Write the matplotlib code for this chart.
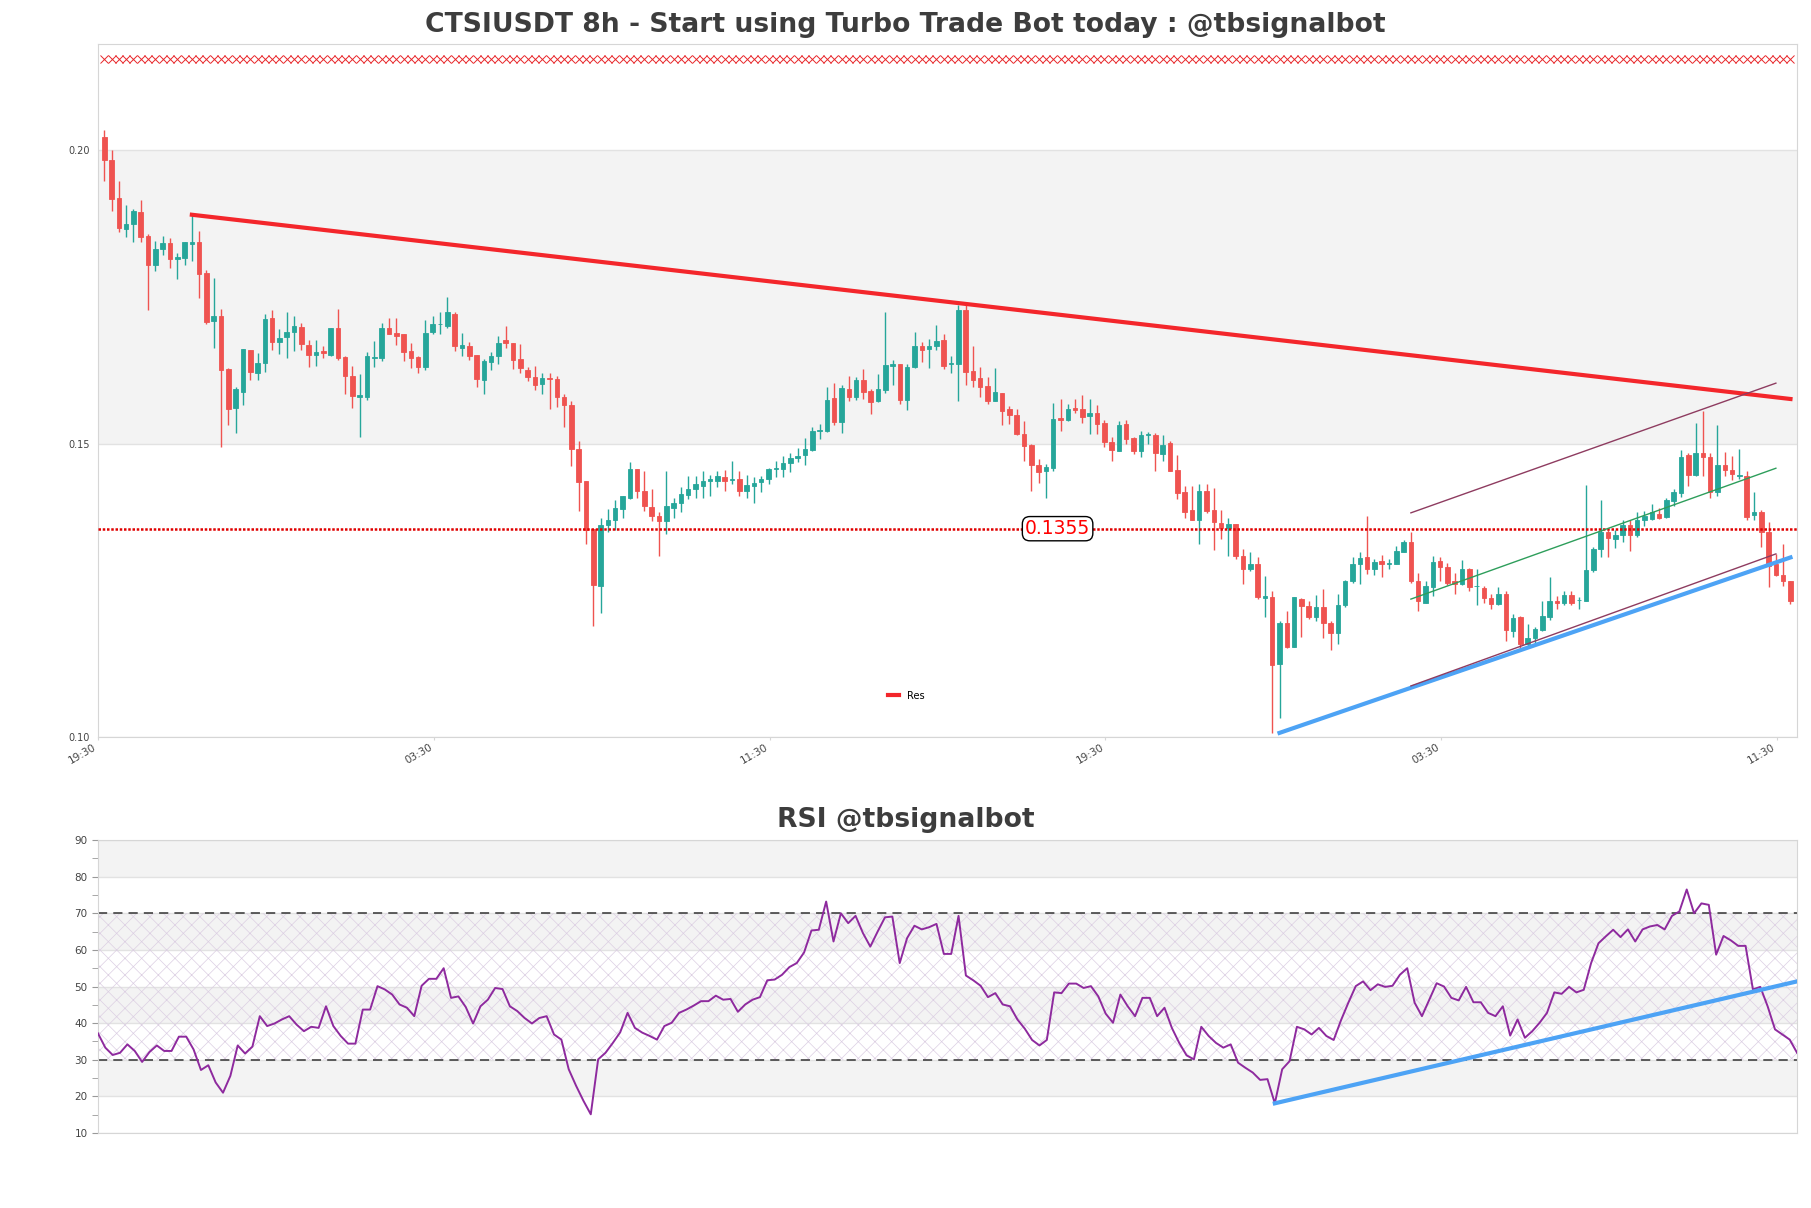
import numpy as np
import matplotlib
matplotlib.use("Agg")
import matplotlib.pyplot as plt

# ---------------- data ----------------
opens = [
    0.2022, 0.1984, 0.1919, 0.1866, 0.1875, 0.1894, 0.1853, 0.1805, 0.1832, 0.1841,
    0.1815, 0.1817, 0.1840, 0.1844, 0.1791, 0.1709, 0.1718, 0.1627, 0.1560, 0.1588,
    0.1660, 0.1620, 0.1638, 0.1714, 0.1673, 0.1681, 0.1690, 0.1699, 0.1668, 0.1651,
    0.1658, 0.1651, 0.1697, 0.1647, 0.1615, 0.1580, 0.1579, 0.1646, 0.1646, 0.1697,
    0.1689, 0.1686, 0.1658, 0.1647, 0.1630, 0.1690, 0.1703, 0.1701, 0.1720, 0.1663,
    0.1667, 0.1651, 0.1609, 0.1639, 0.1649, 0.1677, 0.1672, 0.1645, 0.1626, 0.1614,
    0.1602, 0.1611, 0.1610, 0.1579, 0.1566, 0.1491, 0.1437, 0.1354, 0.1257, 0.1362,
    0.1369, 0.1389, 0.1408, 0.1456, 0.1420, 0.1392, 0.1377, 0.1368, 0.1390, 0.1398,
    0.1413, 0.1422, 0.1428, 0.1436, 0.1437, 0.1443, 0.1438, 0.1439, 0.1420, 0.1427,
    0.1434, 0.1439, 0.1457, 0.1456, 0.1467, 0.1475, 0.1480, 0.1489, 0.1521, 0.1522,
    0.1577, 0.1536, 0.1593, 0.1580, 0.1609, 0.1589, 0.1572, 0.1592, 0.1632, 0.1636,
    0.1575, 0.1630, 0.1667, 0.1662, 0.1667, 0.1676, 0.1636, 0.1636, 0.1727, 0.1624,
    0.1612, 0.1598, 0.1573, 0.1587, 0.1559, 0.1548, 0.1517, 0.1497, 0.1463, 0.1453,
    0.1458, 0.1543, 0.1540, 0.1560, 0.1559, 0.1547, 0.1552, 0.1535, 0.1503, 0.1488,
    0.1533, 0.1509, 0.1488, 0.1515, 0.1515, 0.1482, 0.1501, 0.1455, 0.1417, 0.1386,
    0.1370, 0.1420, 0.1386, 0.1365, 0.1357, 0.1363, 0.1309, 0.1286, 0.1295, 0.1237,
    0.1239, 0.1124, 0.1194, 0.1154, 0.1235, 0.1224, 0.1204, 0.1222, 0.1195, 0.1178,
    0.1225, 0.1265, 0.1294, 0.1306, 0.1286, 0.1300, 0.1294, 0.1295, 0.1316, 0.1333,
    0.1266, 0.1229, 0.1255, 0.1300, 0.1290, 0.1265, 0.1261, 0.1286, 0.1257, 0.1254,
    0.1237, 0.1226, 0.1244, 0.1180, 0.1204, 0.1158, 0.1168, 0.1182, 0.1205, 0.1231,
    0.1228, 0.1242, 0.1233, 0.1232, 0.1284, 0.1320, 0.1350, 0.1337, 0.1345, 0.1362,
    0.1345, 0.1370, 0.1371, 0.1380, 0.1375, 0.1402, 0.1415, 0.1480, 0.1447, 0.1484,
    0.1478, 0.1417, 0.1463, 0.1455, 0.1444, 0.1445, 0.1378, 0.1384, 0.1350, 0.1295,
    0.1276, 0.1266,
]
highs = [
    0.2035, 0.2001, 0.1948, 0.1907, 0.1900, 0.1915, 0.1857, 0.1845, 0.1853, 0.1850,
    0.1825, 0.1844, 0.1890, 0.1862, 0.1795, 0.1782, 0.1730, 0.1629, 0.1597, 0.1661,
    0.1660, 0.1655, 0.1720, 0.1727, 0.1696, 0.1724, 0.1717, 0.1705, 0.1676, 0.1676,
    0.1667, 0.1697, 0.1730, 0.1649, 0.1633, 0.1619, 0.1656, 0.1675, 0.1706, 0.1714,
    0.1714, 0.1686, 0.1672, 0.1650, 0.1710, 0.1718, 0.1724, 0.1749, 0.1724, 0.1688,
    0.1673, 0.1651, 0.1644, 0.1656, 0.1684, 0.1700, 0.1672, 0.1669, 0.1631, 0.1632,
    0.1621, 0.1621, 0.1616, 0.1585, 0.1572, 0.1505, 0.1437, 0.1354, 0.1373, 0.1388,
    0.1404, 0.1411, 0.1468, 0.1457, 0.1453, 0.1423, 0.1383, 0.1454, 0.1407, 0.1426,
    0.1445, 0.1444, 0.1453, 0.1446, 0.1453, 0.1455, 0.1471, 0.1453, 0.1446, 0.1443,
    0.1444, 0.1458, 0.1471, 0.1479, 0.1484, 0.1493, 0.1510, 0.1528, 0.1534, 0.1596,
    0.1603, 0.1600, 0.1615, 0.1613, 0.1627, 0.1593, 0.1618, 0.1725, 0.1643, 0.1636,
    0.1636, 0.1691, 0.1673, 0.1679, 0.1702, 0.1686, 0.1650, 0.1736, 0.1736, 0.1667,
    0.1630, 0.1614, 0.1628, 0.1587, 0.1564, 0.1559, 0.1539, 0.1500, 0.1474, 0.1465,
    0.1569, 0.1576, 0.1568, 0.1576, 0.1582, 0.1576, 0.1565, 0.1541, 0.1511, 0.1538,
    0.1541, 0.1512, 0.1521, 0.1519, 0.1518, 0.1514, 0.1505, 0.1480, 0.1427, 0.1428,
    0.1431, 0.1431, 0.1424, 0.1386, 0.1374, 0.1363, 0.1320, 0.1316, 0.1307, 0.1275,
    0.1248, 0.1197, 0.1215, 0.1239, 0.1237, 0.1232, 0.1242, 0.1252, 0.1197, 0.1244,
    0.1267, 0.1307, 0.1315, 0.1376, 0.1303, 0.1311, 0.1303, 0.1326, 0.1336, 0.1349,
    0.1279, 0.1266, 0.1309, 0.1307, 0.1296, 0.1279, 0.1301, 0.1288, 0.1286, 0.1258,
    0.1243, 0.1256, 0.1248, 0.1209, 0.1207, 0.1193, 0.1187, 0.1231, 0.1272, 0.1241,
    0.1249, 0.1248, 0.1238, 0.1430, 0.1323, 0.1404, 0.1353, 0.1352, 0.1369, 0.1369,
    0.1383, 0.1385, 0.1397, 0.1391, 0.1408, 0.1423, 0.1489, 0.1484, 0.1535, 0.1556,
    0.1484, 0.1532, 0.1485, 0.1479, 0.1491, 0.1454, 0.1417, 0.1387, 0.1366, 0.1312,
    0.1329, 0.1266,
]
lows = [
    0.1948, 0.1896, 0.1861, 0.1852, 0.1844, 0.1844, 0.1727, 0.1794, 0.1822, 0.1799,
    0.1780, 0.1804, 0.1812, 0.1748, 0.1704, 0.1663, 0.1494, 0.1531, 0.1518, 0.1565,
    0.1608, 0.1609, 0.1622, 0.1660, 0.1653, 0.1646, 0.1658, 0.1660, 0.1630, 0.1633,
    0.1646, 0.1650, 0.1642, 0.1584, 0.1561, 0.1511, 0.1575, 0.1631, 0.1641, 0.1686,
    0.1668, 0.1640, 0.1629, 0.1620, 0.1626, 0.1686, 0.1686, 0.1697, 0.1658, 0.1650,
    0.1642, 0.1597, 0.1585, 0.1626, 0.1635, 0.1663, 0.1627, 0.1621, 0.1607, 0.1592,
    0.1584, 0.1559, 0.1562, 0.1528, 0.1461, 0.1385, 0.1329, 0.1189, 0.1212, 0.1349,
    0.1352, 0.1373, 0.1406, 0.1407, 0.1385, 0.1368, 0.1309, 0.1346, 0.1374, 0.1383,
    0.1405, 0.1407, 0.1407, 0.1411, 0.1426, 0.1420, 0.1431, 0.1411, 0.1407, 0.1399,
    0.1417, 0.1431, 0.1443, 0.1443, 0.1452, 0.1468, 0.1464, 0.1487, 0.1507, 0.1519,
    0.1532, 0.1518, 0.1573, 0.1574, 0.1576, 0.1551, 0.1571, 0.1586, 0.1599, 0.1567,
    0.1558, 0.1629, 0.1639, 0.1629, 0.1659, 0.1627, 0.1620, 0.1572, 0.1600, 0.1597,
    0.1579, 0.1567, 0.1572, 0.1532, 0.1534, 0.1515, 0.1471, 0.1420, 0.1432, 0.1407,
    0.1453, 0.1522, 0.1539, 0.1552, 0.1535, 0.1517, 0.1517, 0.1494, 0.1471, 0.1487,
    0.1500, 0.1482, 0.1477, 0.1500, 0.1454, 0.1470, 0.1454, 0.1406, 0.1373, 0.1369,
    0.1329, 0.1381, 0.1319, 0.1337, 0.1309, 0.1303, 0.1261, 0.1283, 0.1235, 0.1204,
    0.1007, 0.1033, 0.1151, 0.1154, 0.1170, 0.1201, 0.1198, 0.1168, 0.1148, 0.1158,
    0.1221, 0.1262, 0.1261, 0.1278, 0.1276, 0.1272, 0.1286, 0.1294, 0.1315, 0.1262,
    0.1214, 0.1228, 0.1241, 0.1265, 0.1259, 0.1243, 0.1259, 0.1248, 0.1225, 0.1228,
    0.1218, 0.1225, 0.1164, 0.1171, 0.1150, 0.1155, 0.1161, 0.1180, 0.1199, 0.1218,
    0.1225, 0.1225, 0.1218, 0.1231, 0.1282, 0.1307, 0.1307, 0.1322, 0.1332, 0.1317,
    0.1341, 0.1360, 0.1369, 0.1371, 0.1374, 0.1394, 0.1409, 0.1428, 0.1444, 0.1444,
    0.1407, 0.1411, 0.1444, 0.1438, 0.1440, 0.1369, 0.1370, 0.1323, 0.1255, 0.1275,
    0.1258, 0.1227,
]
closes = [
    0.1984, 0.1917, 0.1867, 0.1874, 0.1896, 0.1852, 0.1805, 0.1832, 0.1842, 0.1815,
    0.1818, 0.1844, 0.1844, 0.1789, 0.1707, 0.1718, 0.1626, 0.1559, 0.1593, 0.1661,
    0.1622, 0.1638, 0.1713, 0.1673, 0.1680, 0.1691, 0.1700, 0.1670, 0.1651, 0.1656,
    0.1655, 0.1697, 0.1646, 0.1615, 0.1581, 0.1582, 0.1650, 0.1647, 0.1697, 0.1687,
    0.1683, 0.1656, 0.1646, 0.1630, 0.1689, 0.1703, 0.1704, 0.1725, 0.1666, 0.1668,
    0.1650, 0.1610, 0.1640, 0.1650, 0.1672, 0.1672, 0.1643, 0.1629, 0.1613, 0.1600,
    0.1612, 0.1610, 0.1579, 0.1566, 0.1490, 0.1434, 0.1352, 0.1259, 0.1362, 0.1370,
    0.1391, 0.1410, 0.1456, 0.1419, 0.1393, 0.1376, 0.1368, 0.1393, 0.1399, 0.1414,
    0.1423, 0.1431, 0.1437, 0.1439, 0.1444, 0.1437, 0.1439, 0.1420, 0.1430, 0.1433,
    0.1439, 0.1457, 0.1458, 0.1467, 0.1476, 0.1479, 0.1491, 0.1522, 0.1524, 0.1575,
    0.1536, 0.1595, 0.1580, 0.1609, 0.1588, 0.1571, 0.1593, 0.1634, 0.1636, 0.1575,
    0.1631, 0.1666, 0.1660, 0.1667, 0.1675, 0.1633, 0.1638, 0.1727, 0.1622, 0.1608,
    0.1597, 0.1573, 0.1588, 0.1556, 0.1548, 0.1517, 0.1496, 0.1464, 0.1452, 0.1460,
    0.1542, 0.1540, 0.1559, 0.1558, 0.1546, 0.1552, 0.1533, 0.1502, 0.1489, 0.1531,
    0.1507, 0.1488, 0.1515, 0.1517, 0.1484, 0.1498, 0.1454, 0.1415, 0.1383, 0.1370,
    0.1420, 0.1385, 0.1366, 0.1357, 0.1363, 0.1308, 0.1286, 0.1295, 0.1238, 0.1241,
    0.1123, 0.1195, 0.1154, 0.1238, 0.1224, 0.1205, 0.1222, 0.1194, 0.1178, 0.1225,
    0.1266, 0.1295, 0.1305, 0.1286, 0.1299, 0.1295, 0.1296, 0.1317, 0.1333, 0.1266,
    0.1232, 0.1258, 0.1299, 0.1289, 0.1263, 0.1261, 0.1286, 0.1255, 0.1258, 0.1237,
    0.1226, 0.1243, 0.1182, 0.1203, 0.1158, 0.1168, 0.1184, 0.1206, 0.1231, 0.1228,
    0.1242, 0.1229, 0.1234, 0.1284, 0.1320, 0.1349, 0.1339, 0.1345, 0.1362, 0.1345,
    0.1370, 0.1377, 0.1383, 0.1374, 0.1404, 0.1418, 0.1478, 0.1447, 0.1484, 0.1478,
    0.1417, 0.1463, 0.1455, 0.1448, 0.1447, 0.1375, 0.1384, 0.1349, 0.1292, 0.1276,
    0.1265, 0.1231,
]
rsi = [
    37.2, 33.3, 31.3, 31.9, 34.2, 32.4, 29.4, 32.1, 33.9, 32.4,
    32.4, 36.3, 36.3, 32.8, 27.2, 28.5, 23.8, 21.0, 25.6, 33.9,
    31.7, 33.6, 41.9, 39.2, 39.9, 41.0, 41.9, 39.6, 37.8, 39.0,
    38.7, 44.6, 39.2, 36.5, 34.4, 34.4, 43.7, 43.7, 50.1, 49.2,
    47.8, 45.1, 44.2, 41.9, 50.2, 52.1, 52.1, 55.0, 46.9, 47.3,
    44.4, 39.9, 44.6, 46.4, 49.6, 49.3, 44.6, 43.3, 41.4, 39.9,
    41.4, 41.9, 36.9, 35.5, 27.4, 22.9, 18.8, 15.1, 30.1, 31.9,
    34.6, 37.5, 42.8, 38.7, 37.4, 36.5, 35.5, 39.2, 40.1, 42.8,
    43.7, 44.8, 46.0, 46.0, 47.5, 46.4, 46.6, 43.1, 45.1, 46.4,
    47.1, 51.7, 51.9, 53.2, 55.3, 56.4, 59.3, 65.3, 65.5, 73.2,
    62.3, 70.0, 67.3, 69.3, 64.6, 60.9, 65.0, 68.9, 69.1, 56.4,
    63.2, 66.6, 65.6, 66.2, 67.1, 58.9, 58.9, 69.3, 53.0, 51.7,
    50.2, 47.1, 48.2, 45.1, 44.6, 41.0, 38.5, 35.4, 33.9, 35.4,
    48.4, 48.2, 50.8, 50.8, 49.6, 50.1, 47.3, 42.6, 40.1, 47.8,
    44.6, 41.9, 46.9, 46.9, 41.9, 44.2, 38.7, 34.6, 31.2, 30.1,
    39.0, 36.5, 34.6, 33.3, 34.2, 29.2, 27.8, 26.5, 24.5, 24.7,
    18.1, 27.4, 29.6, 39.0, 38.3, 36.9, 38.7, 36.5, 35.4, 40.8,
    45.6, 50.1, 51.4, 49.0, 50.6, 49.9, 50.2, 53.2, 55.0, 45.6,
    41.9, 46.4, 50.9, 50.0, 46.9, 46.2, 49.9, 45.7, 45.7, 42.8,
    41.9, 44.6, 36.6, 41.0, 36.0, 37.8, 40.1, 42.8, 48.4, 48.0,
    49.9, 48.4, 49.1, 56.4, 61.8, 63.7, 65.5, 63.5, 65.6, 62.3,
    65.6, 66.4, 66.8, 65.6, 69.3, 70.5, 76.5, 70.0, 72.7, 72.3,
    58.7, 63.8, 62.6, 61.1, 61.1, 49.2, 49.9, 44.6, 38.3, 36.9,
    35.5, 31.9,
]

x_tick_labels = ["19:30", "03:30", "11:30", "19:30", "03:30", "11:30"]
price_ticks = [0.10, 0.15, 0.20]
rsi_ticks = [10, 20, 30, 40, 50, 60, 70, 80, 90]

# trend lines (candle index, price)
res_x, res_y = [12, 231], [0.1890, 0.1576]
sup_x, sup_y = [161, 231], [0.1007, 0.1306]
chan_x = [179, 229]
chan_upper = [0.1382, 0.1603]
chan_mid = [0.1235, 0.1458]
chan_lower = [0.1087, 0.1312]
level_price = 0.1355
signal_y = 0.2155
rsi_tl_x, rsi_tl_y = [160, 231], [18.1, 51.4]

# ---------------- figure ----------------
TXT = "#3d3d3d"
SPINE = "#d6d6d6"
BAND = "#f3f3f3"
UP = "#26a69a"
DN = "#ef5350"

fig = plt.figure(figsize=(18.11, 12.08), dpi=100)
fig.patch.set_facecolor("white")

ax = fig.add_axes([0.0541, 0.3899, 0.9382, 0.5737])
n = len(opens)
x = np.arange(n)
o = np.array(opens); h = np.array(highs); l = np.array(lows); c = np.array(closes)
up = c >= o
cols = np.where(up, UP, DN)

ax.set_xlim(-0.86, n - 0.1)
ax.set_ylim(0.10, 0.2181)
ax.axhspan(0.15, 0.20, color=BAND, zorder=0, lw=0)
for yv in price_ticks:
    ax.axhline(yv, color="#e2e2e2", lw=1, zorder=0.5)

ax.vlines(x, l, h, colors=cols, lw=1.0, zorder=2)
ax.bar(x, np.abs(c - o), bottom=np.minimum(o, c), width=0.62, color=cols,
       edgecolor=cols, linewidth=0.6, zorder=3)

# signal markers along top
ax.plot(x, np.full(n, signal_y), ls="none", marker="x", color="#e8262a",
        ms=5.5, mew=0.7, zorder=3)

# level line
ax.axhline(level_price, color="#e00000", ls=(0, (1, 0.7)), lw=1.8, zorder=4)
ax.text(130.6, level_price, f"{level_price:.4f}", color="red", fontsize=13.5,
        ha="center", va="center", zorder=6,
        bbox=dict(boxstyle="round,pad=0.14,rounding_size=0.4", fc="white",
                  ec="black", lw=1.0))

# trend lines
ax.plot(res_x, res_y, color="#f3262b", lw=3, zorder=5, label="Res")
ax.plot(sup_x, sup_y, color="#4da3f5", lw=3, zorder=5)
ax.plot(chan_x, chan_upper, color="#8e3c60", lw=1, zorder=5)
ax.plot(chan_x, chan_mid, color="#2e9e5b", lw=1, zorder=5)
ax.plot(chan_x, chan_lower, color="#8e3c60", lw=1, zorder=5)

leg = ax.legend(loc="lower left", bbox_to_anchor=(0.46, 0.04), frameon=False,
                fontsize=7, handlelength=1.1, handletextpad=0.8)

ax.set_yticks(price_ticks)
ax.set_yticklabels([f"{v:.2f}" for v in price_ticks])
tick_pos = [-0.86 + 46 * k for k in range(len(x_tick_labels))]
ax.set_xticks(tick_pos)
ax.set_xticklabels(x_tick_labels, rotation=30, ha="right")
ax.tick_params(axis="y", length=0, labelsize=7, labelcolor="#444444", pad=6)
ax.tick_params(axis="x", length=2, color=SPINE, labelsize=7.5, labelcolor="#444444", pad=2)
for s in ax.spines.values():
    s.set_color(SPINE)

fig.text(0.5, 0.979, "CTSIUSDT 8h - Start using Turbo Trade Bot today : @tbsignalbot",
         ha="center", va="center", fontsize=19.2, fontweight="bold", color=TXT)

# ---------------- RSI ----------------
plt.rcParams["hatch.linewidth"] = 0.5
ax2 = fig.add_axes([0.0541, 0.0621, 0.9382, 0.2425])
m = len(rsi)
xr = np.arange(m)
ax2.set_xlim(0, m - 1)
ax2.set_ylim(10, 90)
for lo, hi in [(20, 30), (40, 50), (60, 70), (80, 90)]:
    ax2.axhspan(lo, hi, color=BAND, zorder=0, lw=0)
for yv in rsi_ticks:
    ax2.axhline(yv, color="#e2e2e2", lw=1, zorder=0.5)
ax2.fill_between([0, m - 1], 30, 70, facecolor="none", edgecolor="#dccfe3",
                 hatch="xx", lw=0, zorder=0.6)
ax2.axhline(30, color="#333333", lw=1.1, ls=(0, (6, 4)), zorder=2)
ax2.axhline(70, color="#333333", lw=1.1, ls=(0, (6, 4)), zorder=2)
ax2.plot(xr, rsi, color="#8e2a9e", lw=1.4, zorder=3)
ax2.plot(rsi_tl_x, rsi_tl_y, color="#4da3f5", lw=3, zorder=4)

ax2.set_yticks(rsi_ticks)
ax2.set_yticks([15, 25, 35, 45, 55, 65, 75, 85], minor=True)
ax2.set_xticks([])
ax2.tick_params(axis="y", which="both", length=4, color="#999999",
                labelsize=7.5, labelcolor="#444444")
for s in ax2.spines.values():
    s.set_color(SPINE)

fig.text(0.5, 0.321, "RSI @tbsignalbot", ha="center", va="center",
         fontsize=19.2, fontweight="bold", color=TXT)

fig.savefig("out.png", dpi=100, facecolor="white")
